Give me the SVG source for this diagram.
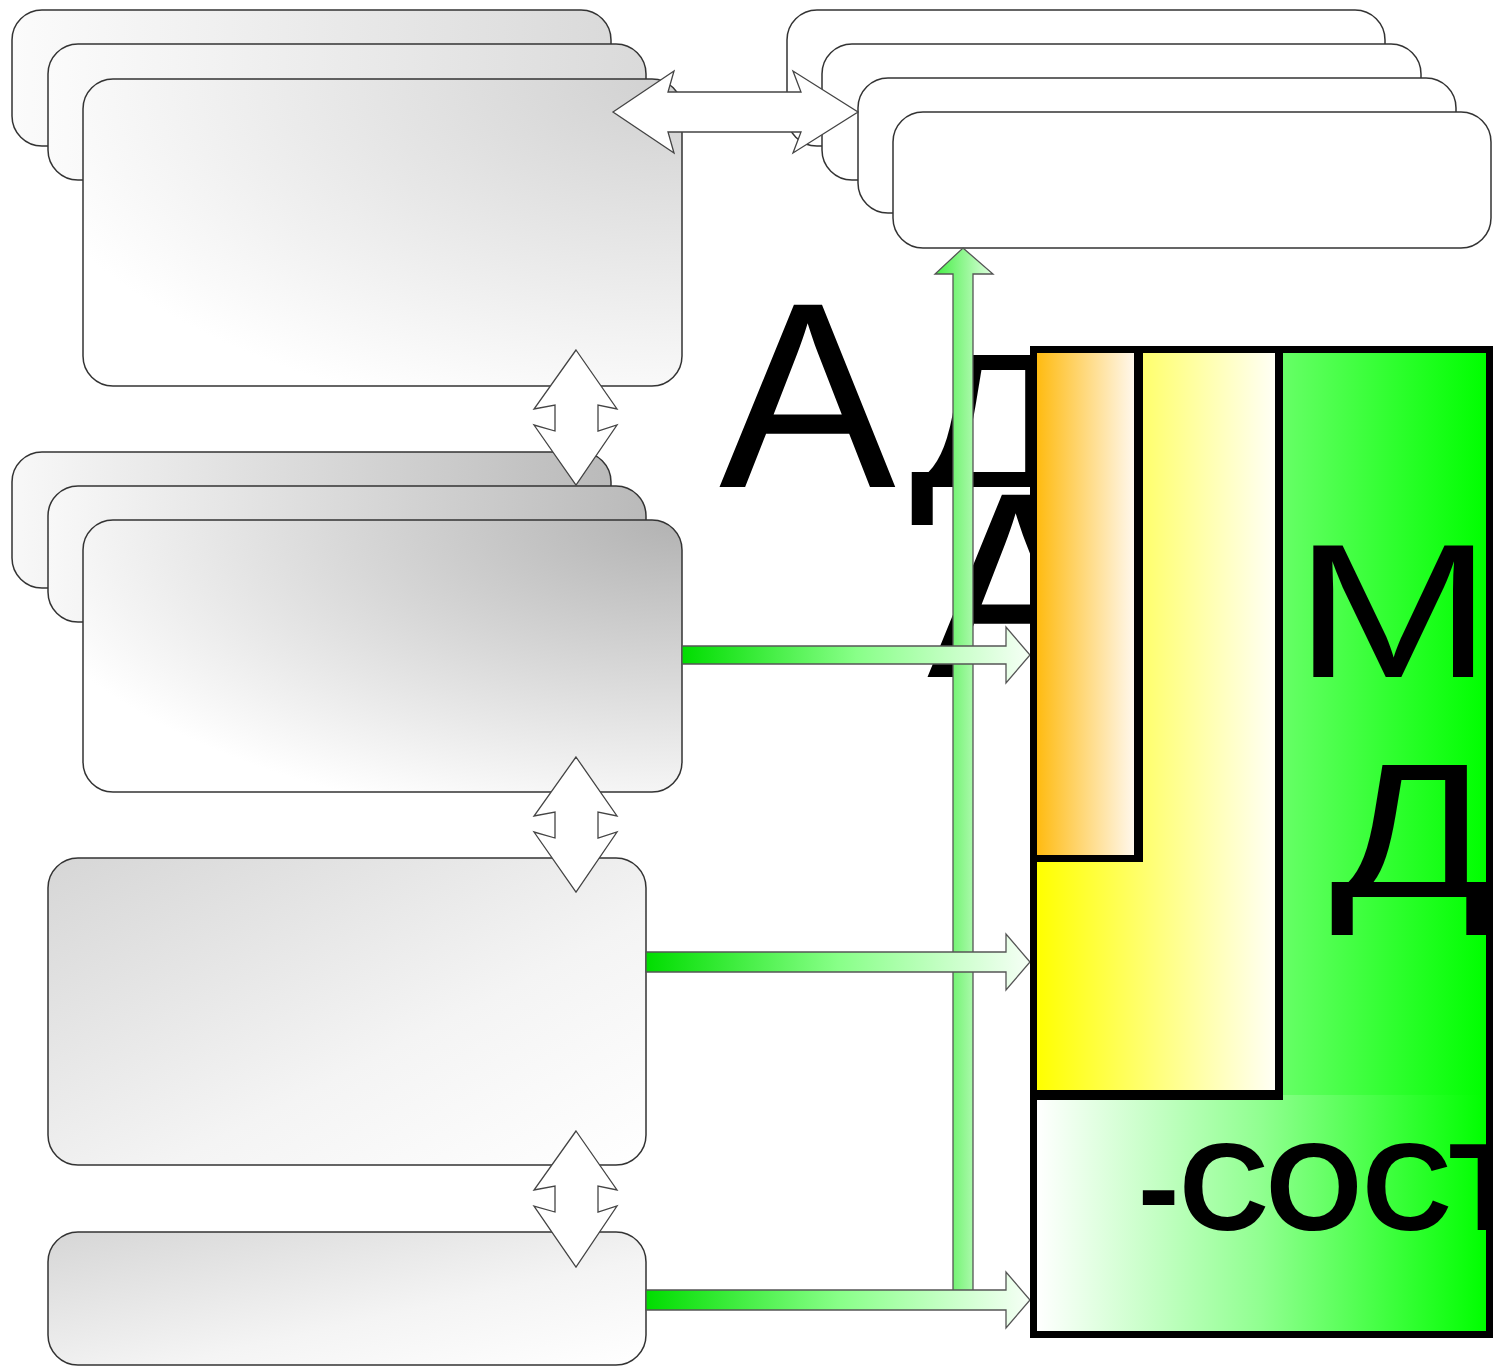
<svg xmlns="http://www.w3.org/2000/svg" width="1493" height="1367" viewBox="0 0 1493 1367">
<defs>
<linearGradient id="gTopH" x1="0" y1="0" x2="1" y2="0"><stop offset="0" stop-color="#fbfbfb"/><stop offset="1" stop-color="#dadada"/></linearGradient>
<radialGradient id="gTop" cx="1" cy="0" r="1.15" fx="1" fy="0"><stop offset="0" stop-color="#d0d0d0"/><stop offset="1" stop-color="#ffffff"/></radialGradient>
<linearGradient id="gMidH" x1="0" y1="0" x2="1" y2="0"><stop offset="0" stop-color="#f8f8f8"/><stop offset="1" stop-color="#bababa"/></linearGradient>
<radialGradient id="gMid" cx="1" cy="0" r="1.15" fx="1" fy="0"><stop offset="0" stop-color="#b2b2b2"/><stop offset="1" stop-color="#ffffff"/></radialGradient>
<linearGradient id="gLow" x1="0" y1="0" x2="1" y2="1"><stop offset="0" stop-color="#d6d6d6"/><stop offset="0.6" stop-color="#f4f4f4"/><stop offset="1" stop-color="#ffffff"/></linearGradient>
<linearGradient id="gArrH" x1="0" y1="0" x2="1" y2="0"><stop offset="0" stop-color="#00dd00"/><stop offset="0.5" stop-color="#88ff88"/><stop offset="1" stop-color="#f6fff6"/></linearGradient>
<linearGradient id="gArrV" x1="0" y1="0" x2="1" y2="0"><stop offset="0" stop-color="#44ee44"/><stop offset="1" stop-color="#e0ffe0"/></linearGradient>
<linearGradient id="gGreen" gradientUnits="userSpaceOnUse" x1="1283" y1="0" x2="1486" y2="0"><stop offset="0" stop-color="#66ff66"/><stop offset="1" stop-color="#00ff00"/></linearGradient>
<linearGradient id="gBottom" gradientUnits="userSpaceOnUse" x1="1037" y1="0" x2="1486" y2="0"><stop offset="0" stop-color="#ffffff"/><stop offset="0.5" stop-color="#90ff90"/><stop offset="1" stop-color="#00ff00"/></linearGradient>
<linearGradient id="gYellow" gradientUnits="userSpaceOnUse" x1="1037" y1="0" x2="1276" y2="0"><stop offset="0" stop-color="#ffff00"/><stop offset="1" stop-color="#fffff6"/></linearGradient>
<linearGradient id="gOrange" gradientUnits="userSpaceOnUse" x1="1037" y1="0" x2="1135" y2="0"><stop offset="0" stop-color="#ffbb11"/><stop offset="1" stop-color="#fff8ee"/></linearGradient>
</defs>
<style>
.box{stroke:#333;stroke-width:1.5}
.wbox{fill:#fff;stroke:#333;stroke-width:1.5}
.darr{fill:#fff;stroke:#444;stroke-width:1.3;stroke-linejoin:miter}
.garr{stroke:#555;stroke-width:1.3}
.big{font-family:"Liberation Sans",Arial,sans-serif;fill:#000}
.blk{fill:#000}
</style>

<g id="node-left-1">
<rect class="box" x="12" y="10" width="599" height="136" rx="30" fill="url(#gTopH)"/>
<rect class="box" x="48" y="44" width="598" height="136" rx="30" fill="url(#gTopH)"/>
<rect class="box" x="83" y="79" width="599" height="307" rx="30" fill="url(#gTop)"/>
</g>
<g id="node-left-2">
<rect class="box" x="12" y="452" width="599" height="136" rx="30" fill="url(#gMidH)"/>
<rect class="box" x="48" y="486" width="598" height="136" rx="30" fill="url(#gMidH)"/>
<rect class="box" x="83" y="520" width="599" height="272" rx="30" fill="url(#gMid)"/>
</g>
<g id="node-left-3">
<rect class="box" x="48" y="858" width="598" height="307" rx="30" fill="url(#gLow)"/>
</g>
<g id="node-left-4">
<rect class="box" x="48" y="1232" width="598" height="133" rx="30" fill="url(#gLow)"/>
</g>
<g id="node-right-top">
<rect class="wbox" x="787" y="10" width="598" height="136" rx="30"/>
<rect class="wbox" x="822" y="44" width="599" height="136" rx="30"/>
<rect class="wbox" x="858" y="78" width="598" height="135" rx="30"/>
<rect class="wbox" x="893" y="112" width="598" height="136" rx="30"/>
</g>

<g id="text-left">
<text class="big" x="719" y="487" font-size="265">А</text>
<text class="big" transform="scale(1.25,1)" x="728" y="487" font-size="191">Д</text>
<text class="big" x="927" y="677" font-size="265">А</text>
</g>

<g id="connectors">
<polygon class="darr" points="613,112 674,71 668,92 801,92 793,71 858,112 793,153 801,132 668,132 674,153"/>
<polygon class="darr" points="576,350 617,409 598,405 598,431 617,425 576,485 534,425 555,431 555,405 534,409"/>
<polygon class="darr" points="576,757 617,816 598,812 598,838 617,832 576,892 534,832 555,838 555,812 534,816"/>
<polygon class="darr" points="576,1131 617,1190 598,1186 598,1212 617,1206 576,1267 534,1206 555,1212 555,1186 534,1190"/>
<polygon class="garr" fill="url(#gArrV)" points="963,248 993,274 973,274 973,1300 953,1300 953,274 935,274"/>
<polygon class="garr" fill="url(#gArrH)" points="682,646 1006,646 1006,627 1030,655 1006,683 1006,664 682,664"/>
<polygon class="garr" fill="url(#gArrH)" points="646,952 1006,952 1006,934 1030,962 1006,990 1006,972 646,972"/>
<polygon class="garr" fill="url(#gArrH)" points="646,1290 1006,1290 1006,1272 1030,1300 1006,1328 1006,1310 646,1310"/>
</g>

<g id="node-panel">
<rect x="1033" y="349" width="456" height="985" fill="url(#gGreen)"/>
<rect x="1033" y="1095" width="456" height="239" fill="url(#gBottom)"/>
<text class="big" transform="scale(1.25,1)" x="1035" y="677" font-size="191">М</text>
<text class="big" transform="scale(1.25,1)" x="1064" y="897" font-size="191">Д</text>
<text class="big" x="1138" y="1230" font-size="124" font-weight="bold">-СОСТ</text>
<rect x="1033" y="349" width="247" height="746" fill="url(#gYellow)"/>
<rect x="1033" y="349" width="105" height="510" fill="url(#gOrange)"/>
<rect class="blk" x="1134" y="346" width="9" height="516"/>
<rect class="blk" x="1030" y="855" width="113" height="7"/>
<rect class="blk" x="1275" y="346" width="8" height="754"/>
<rect class="blk" x="1030" y="1090" width="253" height="10"/>
<rect x="1033.5" y="349.5" width="456" height="985" fill="none" stroke="#000" stroke-width="7"/>
</g>
</svg>
